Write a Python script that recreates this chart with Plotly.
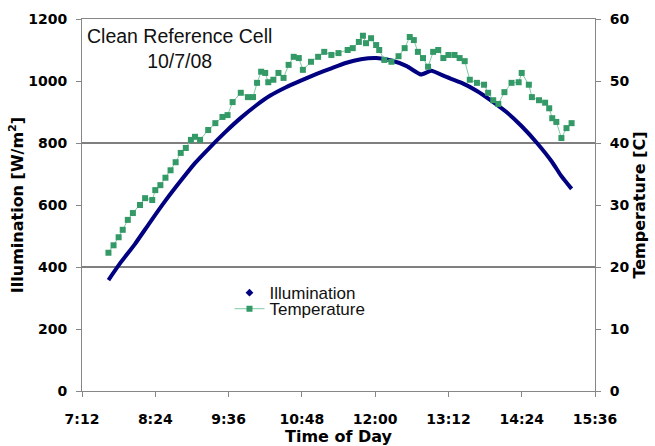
import plotly.graph_objects as go

# ---------------- data ----------------
ILLUM_TIME = ["7:38", "7:49", "8:04", "8:19", "8:34", "8:49", "9:03", "9:18", "9:33", "9:48",
              "10:03", "10:17", "10:32", "10:47", "11:02", "11:17", "11:31", "11:46", "12:01",
              "12:16", "12:31", "12:45", "12:55", "13:10", "13:25", "13:40", "13:54", "14:09",
              "14:24", "14:39", "14:54", "15:03", "15:13"]
ILLUM_VALUE = [358, 410, 474, 545, 614, 678, 735, 787, 836, 881,
               921, 953, 979, 1001, 1022, 1041, 1058, 1070, 1074,
               1066, 1048, 1021, 1033, 1013, 994, 968, 937, 900,
               854, 800, 738, 693, 652]

TEMP_TIME = ["7:38", "7:43", "7:48", "7:52", "7:57", "8:02", "8:09", "8:14", "8:21", "8:24",
             "8:29", "8:34", "8:39", "8:44", "8:49", "8:54", "8:59", "9:03", "9:08", "9:16",
             "9:23", "9:30", "9:35", "9:40", "9:48", "9:55", "10:00", "10:04", "10:08", "10:12",
             "10:15", "10:20", "10:25", "10:30", "10:35", "10:40", "10:45", "10:49", "10:57",
             "11:04", "11:10", "11:17", "11:24", "11:33", "11:38", "11:44", "11:48", "11:51",
             "11:56", "12:01", "12:04", "12:09", "12:16", "12:23", "12:29", "12:34", "12:38",
             "12:42", "12:47", "12:52", "12:57", "13:02", "13:07", "13:12", "13:18", "13:23",
             "13:28", "13:33", "13:40", "13:47", "13:51", "13:56", "14:01", "14:07", "14:14",
             "14:21", "14:24", "14:31", "14:34", "14:41", "14:47", "14:51", "14:54", "14:58",
             "15:03", "15:08", "15:13"]
TEMP_VALUE = [22.3, 23.5, 24.8, 26.0, 27.6, 28.7, 30.0, 31.1, 30.8, 32.4,
              33.2, 34.4, 35.6, 36.9, 38.4, 39.2, 40.5, 41.0, 40.5, 42.1,
              43.2, 44.2, 44.5, 46.6, 48.1, 47.4, 47.4, 49.7, 51.5, 51.3,
              49.8, 50.2, 51.3, 50.5, 52.6, 53.9, 53.7, 51.8, 53.1,
              53.9, 54.7, 54.2, 54.5, 55.0, 55.3, 56.3, 57.3, 56.1,
              56.9, 55.8, 55.0, 53.4, 53.1, 54.0, 55.3, 57.1, 56.6,
              54.7, 53.7, 52.3, 54.7, 55.0, 53.7, 54.2, 54.2, 53.7,
              53.2, 50.2, 49.7, 49.4, 48.1, 46.9, 46.3, 48.2, 49.7,
              49.8, 51.3, 49.4, 47.4, 46.9, 46.5, 45.6, 44.0, 43.4,
              40.8, 42.4, 43.2]

X_TICK_LABELS = ["7:12", "8:24", "9:36", "10:48", "12:00", "13:12", "14:24", "15:36"]
Y_TICKS = [0, 200, 400, 600, 800, 1000, 1200]
Y2_TICKS = [0, 10, 20, 30, 40, 50, 60]
GRID_LINES = [400, 800]


def to_min(s):
    h, m = s.split(":")
    return int(h) * 60 + int(m)


illum_x = [to_min(t) for t in ILLUM_TIME]
temp_x = [to_min(t) for t in TEMP_TIME]
xtick_vals = [to_min(t) for t in X_TICK_LABELS]

NAVY = "#000080"
GREEN = "#339966"
AXIS_GRAY = "#868686"
TICK_FONT = dict(family="DejaVu Sans", size=14, color="black", weight="bold")
TITLE_FONT = dict(family="DejaVu Sans", size=16, color="black", weight="bold")
LEGEND_FONT = dict(family="Liberation Sans, Arial", size=17, color="#111111")
NOTE_FONT = dict(family="Liberation Sans, Arial", size=19.5, color="#111111")

fig = go.Figure()

fig.add_trace(go.Scatter(
    x=illum_x, y=ILLUM_VALUE, mode="lines",
    line=dict(color=NAVY, width=4, shape="spline", smoothing=0.5),
    showlegend=False, hoverinfo="skip", yaxis="y"))
# legend entry for Illumination (marker only, as in the reference key)
fig.add_trace(go.Scatter(
    x=[None], y=[None], mode="markers", name="Illumination",
    marker=dict(symbol="diamond", size=6, color=NAVY),
    legend="legend"))

fig.add_trace(go.Scatter(
    x=temp_x, y=TEMP_VALUE, mode="lines+markers", name="Temperature",
    line=dict(color="#7fcaa5", width=1),
    marker=dict(symbol="square", size=6, color=GREEN),
    yaxis="y2", legend="legend2"))

shapes = [dict(type="line", xref="paper", x0=0, x1=1, yref="y", y0=g, y1=g,
               line=dict(color="black", width=1), layer="below") for g in GRID_LINES]

fig.update_layout(
    width=655, height=446,
    margin=dict(l=82, r=60, t=19, b=55),
    paper_bgcolor="white", plot_bgcolor="white",
    shapes=shapes,
    xaxis=dict(
        range=[xtick_vals[0], xtick_vals[-1]],
        tickvals=xtick_vals, ticktext=X_TICK_LABELS,
        ticks="outside", ticklen=5, tickcolor=AXIS_GRAY,
        showline=True, linecolor=AXIS_GRAY, linewidth=1, mirror=True,
        showgrid=False, zeroline=False, automargin=False,
        tickfont=TICK_FONT, ticklabelstandoff=10,
        title=dict(text="Time of Day", font=TITLE_FONT, standoff=6),
    ),
    yaxis=dict(
        range=[0, 1200], tickvals=Y_TICKS,
        ticks="outside", ticklen=5, tickcolor=AXIS_GRAY,
        showline=True, linecolor=AXIS_GRAY, linewidth=1,
        showgrid=False, zeroline=False, automargin=False,
        tickfont=TICK_FONT, ticklabelstandoff=6,
        title=dict(text="Illumination [W/m<sup>2</sup>]", font=TITLE_FONT, standoff=0),
    ),
    yaxis2=dict(
        overlaying="y", side="right",
        range=[0, 60], tickvals=Y2_TICKS,
        ticks="outside", ticklen=5, tickcolor=AXIS_GRAY,
        showline=True, linecolor=AXIS_GRAY, linewidth=1,
        showgrid=False, zeroline=False, automargin=False,
        tickfont=TICK_FONT, ticklabelstandoff=6,
        title=dict(text="Temperature [C]", font=TITLE_FONT, standoff=5),
    ),
    legend=dict(x=0.2875, y=0.263, xanchor="left", yanchor="middle",
                bgcolor="rgba(0,0,0,0)", font=LEGEND_FONT, borderwidth=0),
    legend2=dict(x=0.2875, y=0.220, xanchor="left", yanchor="middle",
                 bgcolor="rgba(0,0,0,0)", font=LEGEND_FONT, borderwidth=0),
    annotations=[dict(
        text="Clean Reference Cell<br>10/7/08", xref="paper", yref="paper",
        x=0.191, y=0.922, xanchor="center", yanchor="middle", showarrow=False,
        font=NOTE_FONT, align="center")],
)

fig.write_html("out.html",
               config={"displayModeBar": False},
               post_script="document.body.style.margin='0px';"
                           "document.body.style.overflow='hidden';")
